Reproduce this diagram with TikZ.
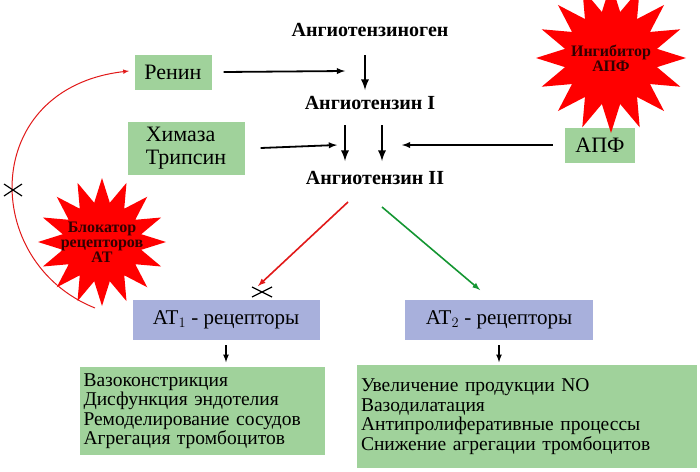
\documentclass[tikz,border=0pt]{standalone}
\usepackage{fontspec}
\setmainfont{Liberation Serif}
\usetikzlibrary{shapes.geometric}
\definecolor{boxgreen}{RGB}{160,210,155}
\definecolor{boxblue}{RGB}{168,176,220}
\definecolor{arrgreen}{RGB}{20,150,50}
\definecolor{arrred}{RGB}{225,25,25}
\begin{document}
\begin{tikzpicture}[x=1pt,y=-1pt,>=latex]
    \tikzstyle{enzyme}=[fill=boxgreen,inner sep=0,font=\fontsize{22}{23}\selectfont]
    \tikzstyle{receptor}=[fill=boxblue,inner sep=0,font=\fontsize{21}{23}\selectfont]
    \tikzstyle{effect}=[fill=boxgreen,inner sep=0,font=\fontsize{19.5}{19.5}\selectfont,align=left]
    \tikzstyle{hormone}=[font=\bfseries\fontsize{20}{22}\selectfont]
    \tikzstyle{burst}=[star,star points=16,star point ratio=1.6,fill=red,inner sep=0]
    \tikzstyle{burst text}=[align=center,font=\bfseries\fontsize{16}{15}\selectfont,text=black!80!red]
    \tikzstyle{step arrow}=[->,line width=2.6pt]
    \tikzstyle{cross}=[line width=1.2pt]
    \useasboundingbox (0,0) rectangle (700,471);

    \node(agen)[hormone] at (370,30) {Ангиотензиноген};
    \node(ang1)[hormone] at (370,103) {Ангиотензин I};
    \node(ang2)[hormone] at (375,178) {Ангиотензин II};
    \node(renin)[enzyme,minimum width=77,minimum height=35] at (173,72) {Ренин};
    \node(chym)[enzyme,minimum width=117,minimum height=53,align=left] at (186,148) {Химаза\\Трипсин};
    \node(ace)[enzyme,minimum width=70,minimum height=35] at (600,145) {АПФ};
    \node(at1)[receptor,minimum width=187,minimum height=40] at (226,320) {AT$_1$ - рецепторы};
    \node(at2)[receptor,minimum width=188,minimum height=40] at (499,320) {AT$_2$ - рецепторы};
    \node(eff1)[effect,minimum width=245,minimum height=88,text width=237] at (202,411) {Вазоконстрикция\\Дисфункция эндотелия\\Ремоделирование сосудов\\Агрегация тромбоцитов};
    \node(eff2)[effect,minimum width=340,minimum height=103,text width=332,anchor=north] at (527,365) {Увеличение продукции NO\\Вазодилатация\\Антипролиферативные процессы\\Снижение агрегации тромбоцитов\\[14pt]};
    \node(arb)[burst,minimum size=128] at (102,242) {};
    \node(arbt)[burst text] at (arb) {Блокатор\\рецепторов\\AT};
    \node(acei)[burst,minimum size=150] at (611,58) {};
    \node(aceit)[burst text] at (acei) {Ингибитор\\АПФ};

    % cascade
    \coordinate(d1a) at (365,55); \coordinate(d1b) at (365,90);
    \coordinate(d2a) at (345,125); \coordinate(d2b) at (345,161);
    \coordinate(d3a) at (382,125); \coordinate(d3b) at (382,161);
    \draw[step arrow] (d1a) -- (d1b);
    \draw[step arrow] (d2a) -- (d2b);
    \draw[step arrow] (d3a) -- (d3b);
    \coordinate(rt) at (345,71); \coordinate(ct) at (337,145); \coordinate(at) at (402,145);
    \draw[->,line width=1.8pt] (renin.east) ++(12,0) -- (rt);
    \draw[->,line width=1.8pt] (chym.east) ++(16,0) -- (ct);
    \draw[->,line width=1.8pt] (ace.west) ++(-12,0) -- (at);
    % receptors
    \coordinate(r1) at (348,202); \coordinate(r1e) at (258,286);
    \coordinate(g1) at (382,207); \coordinate(g1e) at (480,290);
    \draw[->,line width=1.6pt,arrred] (r1) -- (r1e);
    \draw[->,line width=1.6pt,arrgreen] (g1) -- (g1e);
    \draw[->,line width=1.6pt] (at1.south) ++(0,5) -- ++(0,17);
    \draw[->,line width=1.6pt] (at2.south) ++(0,5) -- ++(0,17);
    % feedback
    \coordinate(fb) at (95,308); \coordinate(fe) at (129,71);
    \draw[->,arrred,line width=1pt] (fb) .. controls (-20,262) and (-20,88) .. (fe);
    % blocks
    \draw[cross] (4,184) -- (22,196) (4,196) -- (22,184);
    \draw[cross] (252,287) -- (272,297) (252,297) -- (272,287);
\end{tikzpicture}
\end{document}
